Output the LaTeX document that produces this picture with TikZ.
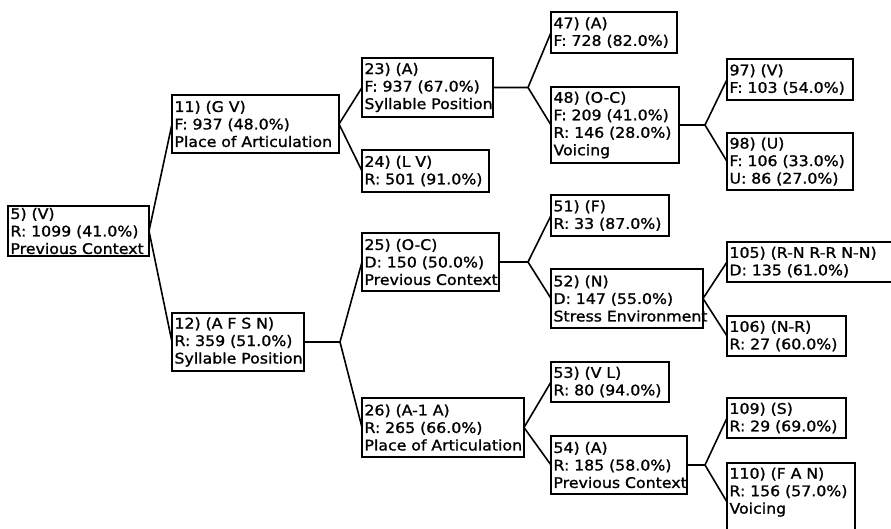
\documentclass[tikz,border=0pt]{standalone}
\usepackage{fontspec}
\setmainfont{DejaVu Sans}[FakeStretch=1.08, FakeBold=1.2]
\usetikzlibrary{calc}

% one line of a box, never broken
\newcommand\tline[1]{\mbox{#1}}

\tikzset{
  treebox/.style={draw, line width=1.7pt, anchor=north west, outer sep=0pt,
    inner xsep=2.5pt, inner ysep=0pt, align=left,
    font=\fontsize{14.6}{17.5}\selectfont},
  link/.style={line width=1.6pt}
}

\begin{document}
\begin{tikzpicture}[x=1pt, y=-1pt]
\path[use as bounding box] (0,0) rectangle (891,528);
\begin{scope}
\clip (0,0) rectangle (891,528);

% level 1
\node[treebox, minimum width=141pt, minimum height=50pt, text width=136pt] (n5) at (8,206)
  {\tline{5) (V)}\\\tline{R: 1099 (41.0\%)}\\\tline{Previous Context}};

% level 2
\node[treebox, minimum width=167pt, minimum height=58pt, text width=162pt] (n11) at (172,95)
  {\tline{11) (G V)}\\\tline{F: 937 (48.0\%)}\\\tline{Place of Articulation}};
\node[treebox, minimum width=132pt, minimum height=58pt, text width=127pt] (n12) at (172,313)
  {\tline{12) (A F S N)}\\\tline{R: 359 (51.0\%)}\\\tline{Syllable Position}};

% level 3
\node[treebox, minimum width=131pt, minimum height=59pt, text width=126pt] (n23) at (362,58)
  {\tline{23) (A)}\\\tline{F: 937 (67.0\%)}\\\tline{Syllable Position}};
\node[treebox, minimum width=127pt, minimum height=42pt, text width=122pt] (n24) at (362,150)
  {\tline{24) (L V)}\\\tline{R: 501 (91.0\%)}};
\node[treebox, minimum width=137pt, minimum height=58pt, text width=132pt] (n25) at (362,233)
  {\tline{25) (O-C)}\\\tline{D: 150 (50.0\%)}\\\tline{Previous Context}};
\node[treebox, minimum width=162pt, minimum height=59pt, text width=157pt] (n26) at (362,398)
  {\tline{26) (A-1 A)}\\\tline{R: 265 (66.0\%)}\\\tline{Place of Articulation}};

% level 4
\node[treebox, minimum width=126pt, minimum height=41pt, text width=121pt] (n47) at (551,12)
  {\tline{47) (A)}\\\tline{F: 728 (82.0\%)}};
\node[treebox, minimum width=128pt, minimum height=76pt, text width=123pt] (n48) at (551,87)
  {\tline{48) (O-C)}\\\tline{F: 209 (41.0\%)}\\\tline{R: 146 (28.0\%)}\\\tline{Voicing}};
\node[treebox, minimum width=118pt, minimum height=41pt, text width=113pt] (n51) at (551,195)
  {\tline{51) (F)}\\\tline{R: 33 (87.0\%)}};
\node[treebox, minimum width=152pt, minimum height=59pt, text width=147pt] (n52) at (551,269)
  {\tline{52) (N)}\\\tline{D: 147 (55.0\%)}\\\tline{Stress Environment}};
\node[treebox, minimum width=118pt, minimum height=40pt, text width=113pt] (n53) at (551,362)
  {\tline{53) (V L)}\\\tline{R: 80 (94.0\%)}};
\node[treebox, minimum width=136pt, minimum height=58pt, text width=131pt] (n54) at (551,436)
  {\tline{54) (A)}\\\tline{R: 185 (58.0\%)}\\\tline{Previous Context}};

% level 5
\node[treebox, minimum width=126pt, minimum height=41pt, text width=121pt] (n97) at (727,59)
  {\tline{97) (V)}\\\tline{F: 103 (54.0\%)}};
\node[treebox, minimum width=126pt, minimum height=57pt, text width=121pt] (n98) at (727,133)
  {\tline{98) (U)}\\\tline{F: 106 (33.0\%)}\\\tline{U: 86 (27.0\%)}};
\node[treebox, minimum width=175pt, minimum height=40pt, text width=170pt] (n105) at (727,242)
  {\tline{105) (R-N R-R N-N)}\\\tline{D: 135 (61.0\%)}};
\node[treebox, minimum width=119pt, minimum height=40pt, text width=114pt] (n106) at (727,316)
  {\tline{106) (N-R)}\\\tline{R: 27 (60.0\%)}};
\node[treebox, minimum width=119pt, minimum height=40pt, text width=114pt] (n109) at (727,398)
  {\tline{109) (S)}\\\tline{R: 29 (69.0\%)}};
\node[treebox, minimum width=128pt, minimum height=78pt, text width=123pt] (n110) at (727,463)
  {\tline{110) (F A N)}\\\tline{R: 156 (57.0\%)}\\\tline{Voicing}\\\strut};

% branch points after a short stub
\coordinate (b12) at ($(n12.east)+(36,0)$);
\coordinate (b23) at ($(n23.east)+(35,0)$);
\coordinate (b25) at ($(n25.east)+(29,0)$);
\coordinate (b48) at ($(n48.east)+(26,0)$);
\coordinate (b54) at ($(n54.east)+(18,0)$);

% connectors
\draw[link] (n5.east) -- (n11.west);
\draw[link] (n5.east) -- (n12.west);
\draw[link] (n11.east) -- (n23.west);
\draw[link] (n11.east) -- (n24.west);
\draw[link] (n12.east) -- (b12) -- (n25.west);
\draw[link] (b12) -- (n26.west);
\draw[link] (n23.east) -- (b23) -- (n47.west);
\draw[link] (b23) -- (n48.west);
\draw[link] (n25.east) -- (b25) -- (n51.west);
\draw[link] (b25) -- (n52.west);
\draw[link] (n26.east) -- (n53.west);
\draw[link] (n26.east) -- (n54.west);
\draw[link] (n48.east) -- (b48) -- (n97.west);
\draw[link] (b48) -- (n98.west);
\draw[link] (n52.east) -- (n105.west);
\draw[link] (n52.east) -- (n106.west);
\draw[link] (n54.east) -- (b54) -- (n109.west);
\draw[link] (b54) -- (n110.west);
\end{scope}
\end{tikzpicture}
\end{document}
